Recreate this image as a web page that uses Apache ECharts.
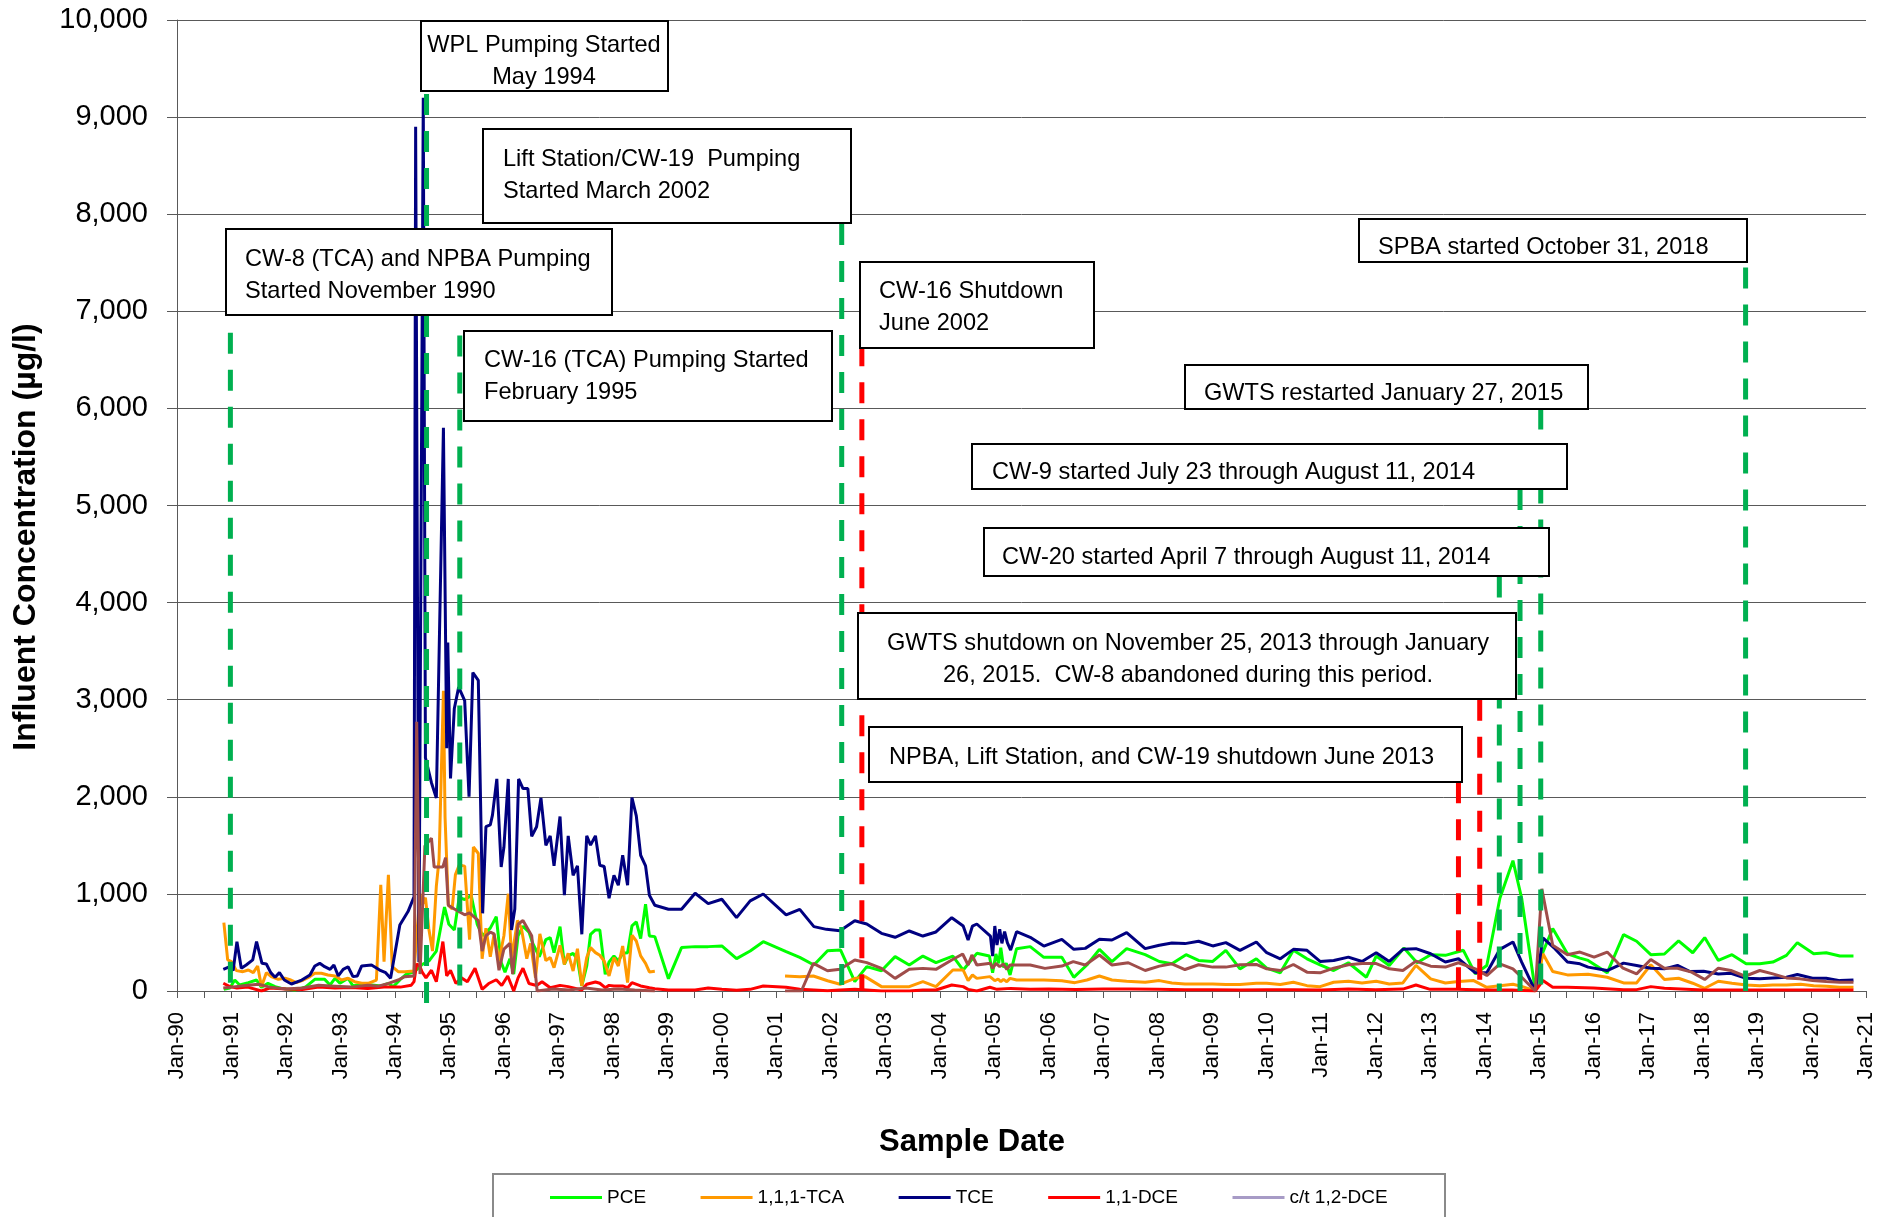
<!DOCTYPE html>
<html><head><meta charset="utf-8">
<script src="https://cdn.jsdelivr.net/npm/echarts@6/dist/echarts.min.js"></script>
<style>html,body{margin:0;padding:0;background:#fff}#c{width:1896px;height:1217px}</style>
</head><body><div id="c"></div>
<script>
// ---------- DATA (decimal year, µg/l) ----------
const seriesNames = ['PCE', '1,1,1-TCA', 'TCE', '1,1-DCE', 'c/t 1,2-DCE'];

const pceData = [[1990.86,17],[1990.97,30],[1991.06,113],[1991.15,62],[1991.31,86],[1991.46,113],[1991.55,38],[1991.67,79],[1991.80,45],[1991.92,27],[1992.16,10],[1992.35,38],[1992.53,120],[1992.71,120],[1992.81,62],[1992.90,131],[1992.99,79],[1993.14,131],[1993.23,52],[1993.39,72],[1993.57,62],[1993.75,52],[1993.88,79],[1993.97,45],[1994.12,131],[1994.21,174],[1994.35,194],[1994.50,273],[1994.63,313],[1994.76,411],[1994.91,864],[1994.99,687],[1995.09,628],[1995.18,962],[1995.28,942],[1995.40,982],[1995.51,687],[1995.61,569],[1995.75,647],[1995.86,765],[1995.95,293],[1996.02,194],[1996.11,332],[1996.18,174],[1996.26,569],[1996.35,667],[1996.46,607],[1996.53,490],[1996.65,352],[1996.77,529],[1996.85,550],[1996.92,395],[1997.03,663],[1997.11,275],[1997.18,361],[1997.27,388],[1997.35,326],[1997.43,52],[1997.52,258],[1997.59,584],[1997.68,629],[1997.76,629],[1997.86,172],[1997.93,299],[1998.02,361],[1998.10,309],[1998.18,388],[1998.27,395],[1998.35,670],[1998.43,711],[1998.51,539],[1998.60,893],[1998.67,567],[1998.77,560],[1999.02,127],[1999.26,447],[1999.51,457],[1999.75,457],[2000.00,464],[2000.27,333],[2000.52,412],[2000.76,508],[2001.18,405],[2001.43,347],[2001.69,268],[2001.94,415],[2002.18,422],[2002.44,96],[2002.66,251],[2002.93,209],[2003.18,354],[2003.44,268],[2003.69,360],[2003.93,292],[2004.24,360],[2004.43,216],[2004.68,388],[2004.91,360],[2004.97,189],[2005.03,381],[2005.08,285],[2005.12,446],[2005.17,244],[2005.22,285],[2005.29,165],[2005.41,436],[2005.66,457],[2005.91,347],[2006.24,347],[2006.46,141],[2006.70,268],[2006.93,429],[2007.16,302],[2007.43,436],[2007.77,374],[2008.03,304],[2008.26,280],[2008.52,374],[2008.75,315],[2009.01,304],[2009.25,419],[2009.51,228],[2009.81,332],[2010.00,235],[2010.25,187],[2010.49,419],[2010.74,332],[2010.98,270],[2011.23,211],[2011.50,291],[2011.83,142],[2012.01,360],[2012.25,263],[2012.52,443],[2012.76,291],[2013.01,374],[2013.28,367],[2013.61,419],[2013.83,176],[2014.04,263],[2014.28,955],[2014.52,1342],[2014.68,955],[2014.93,3],[2015.07,401],[2015.25,644],[2015.52,384],[2015.75,339],[2015.90,315],[2016.25,187],[2016.55,581],[2016.79,512],[2017.05,374],[2017.30,381],[2017.56,516],[2017.82,394],[2018.04,550],[2018.29,315],[2018.54,374],[2018.80,280],[2019.05,280],[2019.29,298],[2019.54,367],[2019.74,498],[2020.04,384],[2020.27,394],[2020.52,360],[2020.77,360]];

const tcaData = [[1990.86,704],[1990.93,320],[1991.00,302],[1991.09,210],[1991.21,199],[1991.31,216],[1991.40,189],[1991.48,258],[1991.55,45],[1991.64,189],[1991.73,148],[1991.86,120],[1991.98,131],[1992.09,113],[1992.19,86],[1992.32,113],[1992.44,148],[1992.53,182],[1992.65,182],[1992.77,165],[1992.90,155],[1993.02,113],[1993.14,131],[1993.26,96],[1993.39,79],[1993.51,79],[1993.66,113],[1993.74,1093],[1993.80,302],[1993.88,1196],[1993.95,251],[1994.06,199],[1994.18,199],[1994.35,206],[1994.46,1002],[1994.50,883],[1994.56,962],[1994.62,647],[1994.69,411],[1994.76,1081],[1994.81,1356],[1994.89,3091],[1994.92,1790],[1994.98,883],[1995.05,844],[1995.11,1199],[1995.18,1297],[1995.28,1286],[1995.37,529],[1995.44,1483],[1995.53,1416],[1995.60,332],[1995.67,647],[1995.75,352],[1995.82,588],[1995.91,313],[1996.00,569],[1996.08,1002],[1996.14,332],[1996.25,726],[1996.32,647],[1996.42,332],[1996.49,490],[1996.58,135],[1996.66,588],[1996.77,313],[1996.85,344],[1996.92,240],[1997.03,471],[1997.11,275],[1997.18,388],[1997.27,206],[1997.35,436],[1997.43,52],[1997.52,344],[1997.59,447],[1997.68,395],[1997.76,368],[1997.84,309],[1997.93,155],[1998.02,344],[1998.10,258],[1998.18,464],[1998.27,86],[1998.35,574],[1998.43,515],[1998.51,361],[1998.60,285],[1998.67,196],[1998.77,203],[2000.00,null],[2001.16,154],[2001.43,148],[2001.68,154],[2001.94,106],[2002.17,69],[2002.44,130],[2002.63,148],[2002.93,45],[2003.18,45],[2003.44,45],[2003.69,96],[2003.93,45],[2004.24,216],[2004.43,216],[2004.52,106],[2004.60,165],[2004.68,130],[2004.92,148],[2005.01,106],[2005.07,124],[2005.12,96],[2005.17,120],[2005.23,96],[2005.29,130],[2005.41,113],[2005.66,113],[2005.91,113],[2006.24,106],[2006.48,86],[2006.70,113],[2006.93,154],[2007.16,113],[2007.43,100],[2007.77,90],[2008.03,107],[2008.26,83],[2008.50,73],[2008.75,73],[2009.01,73],[2009.25,66],[2009.51,66],[2009.81,80],[2010.00,80],[2010.25,66],[2010.49,90],[2010.74,55],[2010.98,45],[2011.23,90],[2011.50,100],[2011.75,83],[2012.01,100],[2012.25,73],[2012.50,83],[2012.74,263],[2013.01,125],[2013.28,83],[2013.52,97],[2013.80,107],[2014.04,38],[2014.28,55],[2014.52,69],[2014.68,48],[2014.93,0],[2015.07,384],[2015.25,201],[2015.52,166],[2015.90,173],[2016.25,142],[2016.55,83],[2016.79,83],[2017.05,270],[2017.30,118],[2017.56,131],[2017.82,80],[2018.04,28],[2018.29,100],[2018.54,80],[2018.80,62],[2019.05,55],[2019.29,62],[2019.54,62],[2019.80,69],[2020.04,55],[2020.27,48],[2020.52,38],[2020.77,38]];

const tceData = [[1990.85,223],[1990.97,250],[1991.03,210],[1991.10,508],[1991.18,234],[1991.27,268],[1991.39,320],[1991.46,508],[1991.56,285],[1991.64,278],[1991.72,189],[1991.80,141],[1991.88,189],[1991.97,113],[1992.10,72],[1992.29,113],[1992.44,165],[1992.53,258],[1992.62,285],[1992.71,250],[1992.81,223],[1992.88,268],[1992.96,155],[1993.05,223],[1993.14,250],[1993.23,148],[1993.31,155],[1993.39,258],[1993.57,268],[1993.72,216],[1993.83,189],[1993.92,131],[1994.09,680],[1994.24,818],[1994.35,970],[1994.38,8900],[1994.44,300],[1994.52,9200],[1994.56,2400],[1994.67,2145],[1994.76,1988],[1994.89,5800],[1994.95,2500],[1994.97,3590],[1995.02,2190],[1995.09,2910],[1995.17,3130],[1995.28,2990],[1995.36,2000],[1995.43,3280],[1995.53,3200],[1995.61,800],[1995.67,1692],[1995.75,1710],[1995.79,1812],[1995.87,2184],[1995.95,1277],[1996.00,1480],[1996.08,2184],[1996.14,628],[1996.20,845],[1996.27,2184],[1996.35,2085],[1996.44,2085],[1996.51,1593],[1996.60,1692],[1996.68,1988],[1996.77,1500],[1996.85,1598],[1996.92,1289],[1997.03,1797],[1997.11,986],[1997.18,1598],[1997.27,1192],[1997.35,1289],[1997.43,584],[1997.52,1598],[1997.59,1502],[1997.68,1598],[1997.76,1295],[1997.84,1282],[1997.93,955],[1998.02,1192],[1998.10,1089],[1998.18,1398],[1998.27,1089],[1998.35,1993],[1998.43,1804],[1998.51,1398],[1998.60,1289],[1998.67,986],[1998.77,883],[1999.02,842],[1999.26,842],[1999.51,1007],[1999.75,900],[2000.00,945],[2000.27,756],[2000.52,928],[2000.76,999],[2001.18,783],[2001.43,841],[2001.69,663],[2001.92,635],[2002.17,621],[2002.44,724],[2002.66,690],[2002.93,594],[2003.18,553],[2003.44,618],[2003.69,566],[2003.93,608],[2004.22,755],[2004.43,669],[2004.52,525],[2004.60,669],[2004.68,690],[2004.93,566],[2004.97,360],[2005.01,669],[2005.05,474],[2005.10,635],[2005.14,491],[2005.19,611],[2005.24,498],[2005.30,422],[2005.41,611],[2005.66,553],[2005.91,463],[2006.24,532],[2006.46,429],[2006.67,439],[2006.93,532],[2007.16,525],[2007.43,602],[2007.77,436],[2008.03,471],[2008.26,495],[2008.50,488],[2008.75,512],[2009.01,464],[2009.25,498],[2009.51,419],[2009.81,505],[2010.00,394],[2010.25,332],[2010.49,429],[2010.74,419],[2010.98,304],[2011.23,315],[2011.50,349],[2011.75,304],[2012.01,394],[2012.25,304],[2012.50,429],[2012.74,436],[2013.01,384],[2013.28,298],[2013.52,332],[2013.83,187],[2014.04,187],[2014.28,429],[2014.52,505],[2014.68,298],[2014.93,0],[2015.07,547],[2015.29,436],[2015.52,298],[2015.75,280],[2015.90,246],[2016.25,211],[2016.55,287],[2016.79,263],[2017.05,235],[2017.30,228],[2017.54,263],[2017.77,201],[2018.02,204],[2018.29,176],[2018.52,183],[2018.80,131],[2019.05,125],[2019.29,135],[2019.54,142],[2019.74,170],[2020.02,131],[2020.27,131],[2020.52,107],[2020.77,114]];

const dceData = [[1990.85,80],[1990.97,45],[1991.10,30],[1991.30,40],[1991.55,0],[1991.70,30],[1992.00,20],[1992.30,15],[1992.60,40],[1992.90,30],[1993.20,35],[1993.50,25],[1993.80,40],[1994.10,40],[1994.30,60],[1994.35,96],[1994.40,280],[1994.46,253],[1994.50,194],[1994.57,135],[1994.67,214],[1994.76,96],[1994.88,509],[1994.95,155],[1995.02,214],[1995.12,77],[1995.22,135],[1995.33,96],[1995.47,234],[1995.60,17],[1995.72,77],[1995.86,116],[1995.96,57],[1996.07,155],[1996.18,0],[1996.26,135],[1996.35,234],[1996.46,77],[1996.60,57],[1996.70,96],[1996.85,34],[1997.03,58],[1997.18,45],[1997.43,10],[1997.52,69],[1997.68,93],[1997.76,80],[1997.86,34],[1997.93,58],[1998.02,52],[1998.18,52],[1998.27,34],[1998.35,86],[1998.51,52],[1998.67,34],[1998.77,24],[1999.02,10],[1999.26,10],[1999.51,10],[1999.75,30],[2000.00,17],[2000.27,7],[2000.52,17],[2000.76,51],[2001.18,38],[2001.43,17],[2001.69,10],[2001.94,3],[2002.17,10],[2002.44,17],[2002.66,10],[2002.93,0],[2003.18,0],[2003.44,0],[2003.69,10],[2003.93,10],[2004.22,62],[2004.43,45],[2004.52,17],[2004.68,0],[2004.92,38],[2005.05,17],[2005.30,27],[2005.66,17],[2006.00,20],[2006.50,15],[2007.00,20],[2007.50,20],[2008.00,17],[2008.50,14],[2009.00,14],[2009.50,10],[2010.00,14],[2010.50,14],[2011.00,10],[2011.50,20],[2012.00,14],[2012.50,20],[2012.74,62],[2013.00,17],[2013.50,17],[2014.00,10],[2014.50,10],[2014.93,0],[2015.07,107],[2015.25,38],[2015.52,38],[2016.00,30],[2016.55,14],[2016.79,14],[2017.05,45],[2017.30,28],[2018.00,10],[2018.50,10],[2019.00,10],[2019.50,10],[2020.00,10],[2020.77,10]];

const ctDceData = [[1990.85,30],[1991.00,40],[1991.30,60],[1991.50,70],[1991.70,40],[1992.00,20],[1992.30,30],[1992.60,60],[1992.90,50],[1993.20,40],[1993.50,60],[1993.70,50],[1993.88,79],[1994.06,113],[1994.18,148],[1994.35,155],[1994.40,2774],[1994.46,174],[1994.55,1494],[1994.67,1573],[1994.72,1277],[1994.88,1277],[1994.93,1374],[1994.98,883],[1995.09,844],[1995.28,785],[1995.37,805],[1995.53,726],[1995.60,411],[1995.67,569],[1995.75,607],[1995.82,588],[1995.91,214],[1996.00,431],[1996.11,490],[1996.16,174],[1996.26,687],[1996.35,726],[1996.51,569],[1996.61,0],[1996.90,20],[1997.20,10],[1997.50,30],[1997.80,10],[1998.10,20],[1998.40,10],[1998.77,0],[2000.00,null],[2001.16,0],[2001.46,0],[2001.68,285],[2001.94,209],[2002.17,223],[2002.44,319],[2002.66,292],[2002.93,233],[2003.18,130],[2003.44,223],[2003.69,233],[2003.93,223],[2004.22,319],[2004.42,381],[2004.52,268],[2004.59,371],[2004.68,268],[2004.93,285],[2004.97,233],[2005.03,285],[2005.10,251],[2005.17,278],[2005.23,223],[2005.29,268],[2005.66,268],[2005.93,233],[2006.24,257],[2006.45,302],[2006.67,268],[2006.93,371],[2007.16,268],[2007.46,291],[2007.77,211],[2008.03,256],[2008.26,280],[2008.50,221],[2008.75,270],[2009.01,246],[2009.25,246],[2009.51,270],[2009.81,273],[2010.00,228],[2010.25,211],[2010.49,273],[2010.74,194],[2010.98,187],[2011.23,235],[2011.50,270],[2011.75,284],[2012.00,284],[2012.25,228],[2012.50,211],[2012.74,308],[2013.01,256],[2013.28,246],[2013.52,291],[2013.83,228],[2014.04,159],[2014.28,280],[2014.52,228],[2014.68,142],[2014.93,0],[2015.05,1052],[2015.25,471],[2015.52,374],[2015.75,401],[2016.01,349],[2016.25,401],[2016.54,235],[2016.79,176],[2017.05,325],[2017.30,235],[2017.54,235],[2017.80,194],[2018.04,118],[2018.29,235],[2018.52,211],[2018.78,152],[2019.05,211],[2019.29,176],[2019.54,135],[2019.79,125],[2020.02,107],[2020.27,97],[2020.52,90],[2020.77,90]];

// event marker lines: date, top value, kind
const markerDates = [1990.98, 1994.58, 1995.19, 2002.20, 2002.57, 2013.52, 2013.91, 2014.27, 2014.65, 2015.03, 2018.79];
const markerTops  = [6780, 10000, 6750, 7900, 6650, 2150, 3000, 4270, 5170, 6000, 7450];
const markerKinds = ['start','start','start','start','stop','stop','stop','start','start','start','start'];

// annotation texts
const annotationTexts = [
  ['WPL Pumping Started', 'May 1994'],
  ['Lift Station/CW-19  Pumping', 'Started March 2002'],
  ['CW-8 (TCA) and NPBA Pumping', 'Started November 1990'],
  ['CW-16 (TCA) Pumping Started', 'February 1995'],
  ['CW-16 Shutdown', 'June 2002'],
  ['SPBA started October 31, 2018'],
  ['GWTS restarted January 27, 2015'],
  ['CW-9 started July 23 through August 11, 2014'],
  ['CW-20 started April 7 through August 11, 2014'],
  ['GWTS shutdown on November 25, 2013 through January', '26, 2015.  CW-8 abandoned during this period.'],
  ['NPBA, Lift Station, and CW-19 shutdown June 2013']
];

const yAxisTitle = 'Influent Concentration (µg/l)';
const xAxisTitle = 'Sample Date';

// ---------- STYLE ----------
const FONT = '"Liberation Sans", Arial, sans-serif';
const lineColors = ['#00FF00', '#FF9900', '#000080', '#FF0000', '#9F4D4A'];
const legendColors = ['#00FF00', '#FF9900', '#000080', '#FF0000', '#A79BC6'];
const kindColor = { start: '#00B050', stop: '#FF0000' };

// box geometry: [x, y, w, h, textX, firstLineY, align]
const boxGeom = [
  [421, 21, 247, 70, 544, 45, 'center'],
  [483, 129, 368, 94, 503, 159.5, 'left'],
  [226, 229, 386, 86, 245, 259.5, 'left'],
  [464, 331, 368, 90, 484, 360.5, 'left'],
  [860, 262, 234, 86, 879, 291.5, 'left'],
  [1359, 219, 388, 43, 1378, 247.5, 'left'],
  [1185, 365, 403, 44, 1204, 393.5, 'left'],
  [972, 444, 595, 45, 992, 472.5, 'left'],
  [984, 528, 565, 48, 1002, 557.5, 'left'],
  [858, 613, 658, 86, 1188, 643.5, 'center'],
  [869, 727, 593, 55, 889, 757.5, 'left']
];
const LINE_H = 32;

const chart = echarts.init(document.getElementById('c'), null, { renderer: 'canvas' });

const allData = [pceData, tcaData, tceData, dceData, ctDceData];
const series = allData.map((d, i) => ({
  name: seriesNames[i],
  type: 'line',
  data: d,
  symbol: 'none',
  connectNulls: false,
  lineStyle: { color: lineColors[i], width: 3 },
  itemStyle: { color: legendColors[i] },
  z: 2,
  animation: false
}));

markerDates.forEach((d, i) => {
  series.push({
    type: 'line',
    data: [[d, markerTops[i]], [d, i === 1 ? -130 : 0]],
    symbol: 'none',
    silent: true,
    clip: false,
    lineStyle: { color: kindColor[markerKinds[i]], width: 5, type: [21, 16] },
    z: 3,
    animation: false
  });
});

const graphics = [];
annotationTexts.forEach((lines, i) => {
  const g = boxGeom[i];
  graphics.push({
    type: 'rect', z: 100,
    shape: { x: g[0], y: g[1], width: g[2], height: g[3] },
    style: { fill: '#fff', stroke: '#000', lineWidth: 2 }
  });
  lines.forEach((t, j) => {
    graphics.push({
      type: 'text', z: 101, x: g[4], y: g[5] + j * LINE_H,
      style: { text: t, font: '23.6px ' + FONT, fill: '#000',
               textAlign: g[6], textVerticalAlign: 'middle', align: g[6], verticalAlign: 'middle' }
    });
  });
});
graphics.push({
  type: 'text', z: 101, x: 26, y: 537, rotation: Math.PI / 2,
  style: { text: yAxisTitle, font: 'bold 32px ' + FONT, fill: '#000',
           textAlign: 'center', textVerticalAlign: 'middle', align: 'center', verticalAlign: 'middle' }
});
graphics.push({
  type: 'text', z: 101, x: 972, y: 1142,
  style: { text: xAxisTitle, font: 'bold 31px ' + FONT, fill: '#000',
           textAlign: 'center', textVerticalAlign: 'middle', align: 'center', verticalAlign: 'middle' }
});
graphics.push({
  type: 'rect', z: 50,
  shape: { x: 493, y: 1174, width: 952, height: 80 },
  style: { fill: 'none', stroke: '#8a8a8a', lineWidth: 2 }
});

chart.setOption({
  animation: false,
  backgroundColor: '#fff',
  grid: { left: 177, right: 30, top: 20, bottom: 226, containLabel: false, outerBoundsMode: 'none' },
  legend: {
    show: true, left: 550, top: 1188, padding: 0, itemGap: 54.5, itemWidth: 52, itemHeight: 3,
    icon: 'rect', selectedMode: false,
    textStyle: { fontFamily: FONT, fontSize: 19, color: '#000' },
    data: seriesNames.map((n, i) => ({ name: n, icon: 'rect', itemStyle: { color: legendColors[i], borderWidth: 0 } }))
  },
  xAxis: {
    type: 'value', min: 1990, max: 2021, interval: 0.5,
    axisLine: { show: true, onZero: false, lineStyle: { color: '#595959', width: 1 } },
    axisTick: { show: true, length: 7, lineStyle: { color: '#595959', width: 1 } },
    splitLine: { show: false },
    axisLabel: {
      rotate: 90, margin: 21, fontSize: 22, fontFamily: FONT, color: '#000',
      showMinLabel: true, showMaxLabel: true,
      formatter: v => (Math.abs(v - Math.round(v)) < 1e-6) ? 'Jan-' + String(Math.round(v) % 100).padStart(2, '0') : ''
    }
  },
  yAxis: {
    type: 'value', min: 0, max: 10000, interval: 1000,
    axisLine: { show: true, lineStyle: { color: '#595959', width: 1 } },
    axisTick: { show: true, length: 10, lineStyle: { color: '#595959', width: 1 } },
    splitLine: { show: true, lineStyle: { color: '#595959', width: 1 } },
    axisLabel: {
      margin: 29, fontSize: 29, fontFamily: FONT, color: '#000',
      formatter: v => v.toLocaleString('en-US')
    }
  },
  graphic: graphics,
  series: series
});
</script>
</body></html>
